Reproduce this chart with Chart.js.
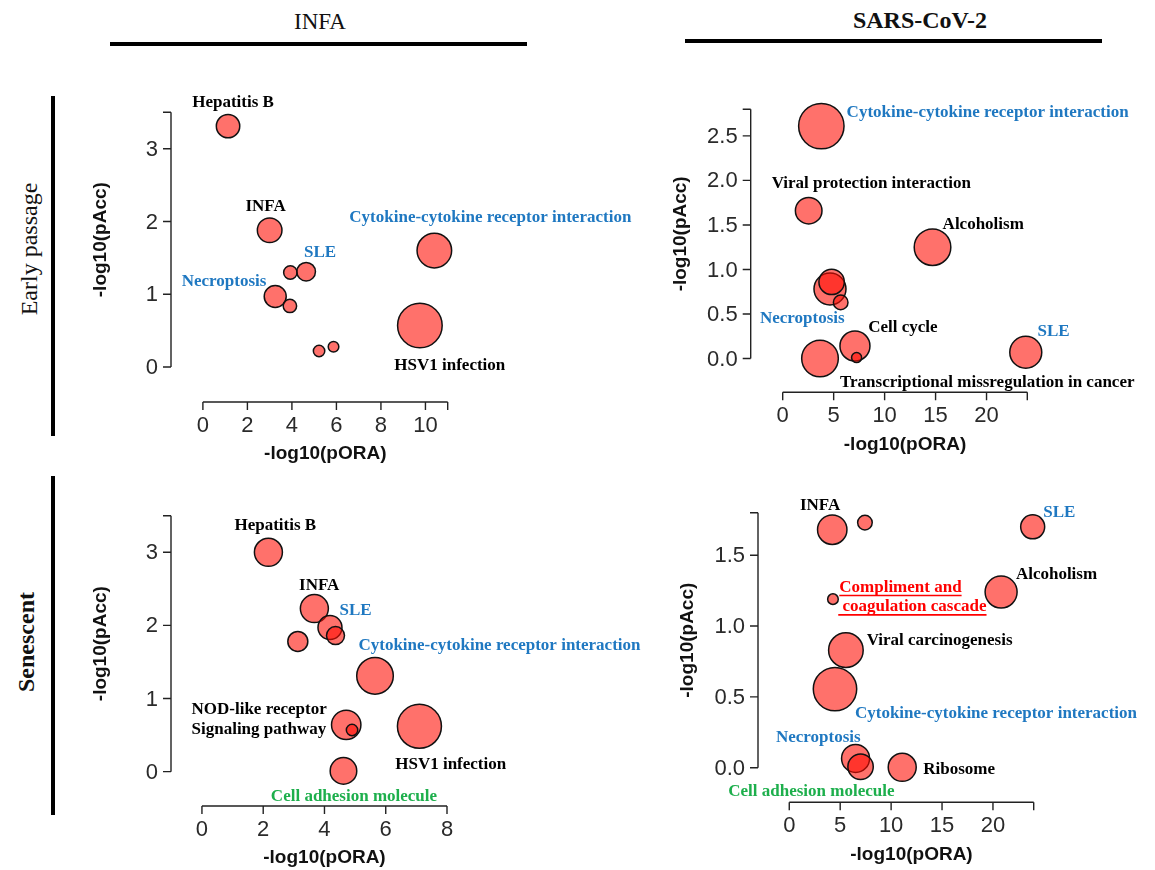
<!DOCTYPE html>
<html>
<head>
<meta charset="utf-8">
<script src="https://cdn.jsdelivr.net/npm/chart.js@4.4.1/dist/chart.umd.min.js"></script>
<style>
    html, body { margin: 0; padding: 0; background: #fff; }
    body { width: 1155px; height: 870px; position: relative; overflow: hidden; }
    canvas { position: absolute; }
    .head { position: absolute; font-family: 'Liberation Serif', 'Times New Roman', serif; color: #111;
            white-space: nowrap; transform: translate(-50%, -50%); line-height: 1; }
    .bar { position: absolute; background: #000; }
    .side { position: absolute; font-family: 'Liberation Serif', 'Times New Roman', serif; color: #111;
            white-space: nowrap; line-height: 1; transform: translate(-50%, -50%) rotate(-90deg); }
</style>
</head>
<body>
<div class="head" style="left:320px; top:21px; font-size:23px;">INFA</div>
<div class="head" style="left:920px; top:20px; font-size:24px; font-weight:bold;">SARS-CoV-2</div>
<div class="bar" style="left:110px; top:42px; width:417px; height:4px;"></div>
<div class="bar" style="left:685px; top:39px; width:417px; height:4px;"></div>
<div class="bar" style="left:51px; top:96px; width:3.5px; height:340px;"></div>
<div class="bar" style="left:51px; top:476px; width:3.5px; height:339px;"></div>
<div class="side" style="left:29px; top:249px; font-size:24px;">Early passage</div>
<div class="side" style="left:26px; top:642px; font-size:24px; font-weight:bold;">Senescent</div>

<canvas id="infa-early" width="590" height="390" style="left:60px; top:85px;"></canvas>
<canvas id="sars-early" width="505" height="385" style="left:650px; top:85px;"></canvas>
<canvas id="infa-sen" width="590" height="385" style="left:60px; top:485px;"></canvas>
<canvas id="sars-sen" width="505" height="390" style="left:650px; top:480px;"></canvas>

<script>
// INFA, early passage
var infaEarlyX = [1.13, 3.0, 3.93, 4.64, 3.25, 3.91, 5.22, 5.87, 10.4, 9.75];
var infaEarlyY = [3.31, 1.88, 1.30, 1.31, 0.97, 0.84, 0.22, 0.28, 1.60, 0.57];
var infaEarlyR = [11.7, 12.3, 6.7, 9.3, 11, 6.7, 5.7, 5.3, 17.3, 22.3];

// SARS-CoV-2, early passage
var sarsEarlyX = [3.79, 2.55, 14.7, 4.64, 4.8, 5.69, 3.66, 7.09, 7.25, 23.85];
var sarsEarlyY = [2.61, 1.66, 1.25, 0.78, 0.86, 0.63, 0.0, 0.14, 0.01, 0.07];
var sarsEarlyR = [22.7, 13.3, 18.3, 16, 12.7, 7.3, 18.3, 15, 5, 16];

// INFA, senescent
var infaSenX = [2.17, 3.67, 4.18, 4.36, 3.13, 5.65, 4.71, 4.9, 7.10, 4.62];
var infaSenY = [3.0, 2.23, 1.97, 1.86, 1.78, 1.31, 0.64, 0.57, 0.62, 0.01];
var infaSenR = [14, 14, 12, 9, 10, 18.3, 14.7, 5.7, 22, 13.3];

// SARS-CoV-2, senescent
var sarsSenX = [4.22, 7.43, 23.9, 20.8, 4.29, 5.56, 4.49, 6.51, 7.0, 11.09];
var sarsSenY = [1.68, 1.73, 1.70, 1.24, 1.19, 0.83, 0.555, 0.066, 0.007, 0.003];
var sarsSenR = [14.7, 7.3, 12, 16, 5.3, 17.3, 21.7, 14, 12.7, 14];

// tick labels
var infaEarlyXTicks = [0, 2, 4, 6, 8, 10];
var infaEarlyYTicks = [0, 1, 2, 3];
var sarsEarlyXTicks = [0, 5, 10, 15, 20];
var sarsEarlyYTicks = [0, 0.5, 1.0, 1.5, 2.0, 2.5];
var infaSenXTicks = [0, 2, 4, 6, 8];
var infaSenYTicks = [0, 1, 2, 3];
var sarsSenXTicks = [0, 5, 10, 15, 20];
var sarsSenYTicks = [0, 0.5, 1.0, 1.5];

var BLUE = '#1f78c1';
var GREEN = '#1daf4c';
var RED = '#ff0000';
var BLACK = '#000000';

// pathway names, placed in data space
var infaEarlyLabels = [
    {text: 'Hepatitis B', x: -0.48, y: 3.64, color: BLACK},
    {text: 'INFA', x: 1.91, y: 2.20, color: BLACK},
    {text: 'SLE', x: 4.54, y: 1.57, color: BLUE},
    {text: 'Necroptosis', x: -0.95, y: 1.17, color: BLUE},
    {text: 'Cytokine-cytokine receptor interaction', x: 6.58, y: 2.06, color: BLUE},
    {text: 'HSV1 infection', x: 8.60, y: 0.02, color: BLACK}
];
var sarsEarlyLabels = [
    {text: 'Cytokine-cytokine receptor interaction', x: 6.27, y: 2.76, color: BLUE},
    {text: 'Viral protection interaction', x: -1.08, y: 1.96, color: BLACK},
    {text: 'Alcoholism', x: 15.69, y: 1.50, color: BLACK},
    {text: 'Necroptosis', x: -2.23, y: 0.45, color: BLUE},
    {text: 'Cell cycle', x: 8.39, y: 0.35, color: BLACK},
    {text: 'SLE', x: 25.0, y: 0.30, color: BLUE},
    {text: 'Transcriptional missregulation in cancer', x: 5.62, y: -0.27, color: BLACK}
];
var infaSenLabels = [
    {text: 'Hepatitis B', x: 1.06, y: 3.37, color: BLACK},
    {text: 'INFA', x: 3.17, y: 2.55, color: BLACK},
    {text: 'SLE', x: 4.49, y: 2.20, color: BLUE},
    {text: 'Cytokine-cytokine receptor interaction', x: 5.11, y: 1.73, color: BLUE},
    {text: 'NOD-like receptor', x: -0.34, y: 0.85, color: BLACK},
    {text: 'Signaling pathway', x: -0.34, y: 0.58, color: BLACK},
    {text: 'HSV1 infection', x: 6.31, y: 0.10, color: BLACK},
    {text: 'Cell adhesion molecule', x: 2.25, y: -0.34, color: GREEN}
];
var sarsSenLabels = [
    {text: 'INFA', x: 1.05, y: 1.85, color: BLACK},
    {text: 'SLE', x: 24.93, y: 1.80, color: BLUE},
    {text: 'Alcoholism', x: 22.25, y: 1.364, color: BLACK},
    {text: 'Compliment and', x: 4.91, y: 1.272, color: RED, underline: true},
    {text: ' coagulation cascade', x: 4.81, y: 1.135, color: RED, underline: true},
    {text: 'Viral carcinogenesis', x: 7.6, y: 0.896, color: BLACK},
    {text: 'Cytokine-cytokine receptor interaction', x: 6.45, y: 0.384, color: BLUE},
    {text: 'Necroptosis', x: -1.31, y: 0.214, color: BLUE},
    {text: 'Ribosome', x: 13.15, y: -0.011, color: BLACK},
    {text: 'Cell adhesion molecule', x: -5.99, y: -0.169, color: GREEN}
];

// R-style detached axes drawn from the chart's own scales
var rAxesPlugin = {
    id: 'rAxes',
    beforeDatasetsDraw: function (chart, args, opts) {
        var ctx = chart.ctx;
        var xs = chart.scales.x;
        var ys = chart.scales.y;
        var area = chart.chartArea;

        var yA = ys.getPixelForValue(0);
        var yB = ys.getPixelForValue(opts.yEnd);
        var xA = xs.getPixelForValue(0);
        var xB = xs.getPixelForValue(opts.xEnd);

        ctx.save();
        ctx.strokeStyle = '#222';
        ctx.lineWidth = 1.4;
        ctx.beginPath();
        ctx.moveTo(area.left, yA);
        ctx.lineTo(area.left, yB);
        opts.yTicks.concat([opts.yEnd]).forEach(function (v) {
            var p = ys.getPixelForValue(v);
            ctx.moveTo(area.left - 8, p);
            ctx.lineTo(area.left, p);
        });
        ctx.moveTo(xA, area.bottom);
        ctx.lineTo(xB, area.bottom);
        opts.xTicks.concat([opts.xEnd]).forEach(function (v) {
            var p = xs.getPixelForValue(v);
            ctx.moveTo(p, area.bottom);
            ctx.lineTo(p, area.bottom + 8);
        });
        ctx.stroke();

        ctx.fillStyle = '#2a2a2a';
        ctx.font = '22px "Liberation Sans", Arial, sans-serif';
        ctx.textAlign = 'right';
        ctx.textBaseline = 'middle';
        opts.yTicks.forEach(function (v) {
            ctx.fillText(v.toFixed(opts.yDigits), area.left - 13, ys.getPixelForValue(v) + 1);
        });
        ctx.textAlign = 'center';
        opts.xTicks.forEach(function (v) {
            ctx.fillText(String(v), xs.getPixelForValue(v), area.bottom + 24);
        });

        ctx.fillStyle = '#111';
        ctx.font = 'bold 19px "Liberation Sans", Arial, sans-serif';
        ctx.fillText('-log10(pORA)', (xA + xB) / 2, area.bottom + 52);
        ctx.translate(area.left - 70, (yA + yB) / 2);
        ctx.rotate(-Math.PI / 2);
        ctx.fillText('-log10(pAcc)', 0, 0);
        ctx.restore();
    }
};

var pathLabelPlugin = {
    id: 'pathLabels',
    afterDatasetsDraw: function (chart, args, opts) {
        var ctx = chart.ctx;
        ctx.save();
        ctx.font = 'bold 17px "Liberation Serif", "Times New Roman", serif';
        ctx.textAlign = 'left';
        ctx.textBaseline = 'middle';
        opts.items.forEach(function (item) {
            var px = chart.scales.x.getPixelForValue(item.x);
            var py = chart.scales.y.getPixelForValue(item.y);
            ctx.fillStyle = item.color;
            ctx.fillText(item.text, px, py);
            if (item.underline) {
                var w = ctx.measureText(item.text).width;
                ctx.strokeStyle = item.color;
                ctx.lineWidth = 1.6;
                ctx.beginPath();
                ctx.moveTo(px, py + 8);
                ctx.lineTo(px + w, py + 8);
                ctx.stroke();
            }
        });
        ctx.restore();
    }
};

function makePanel(id, box, area, xs, ys, rs, xRange, yRange, xTicks, yTicks, yDigits, labels) {
    var points = xs.map(function (x, i) {
        return {x: x, y: ys[i], r: rs[i]};
    });

    return new Chart(document.getElementById(id), {
        type: 'bubble',
        data: {
            datasets: [{
                data: points,
                backgroundColor: 'rgba(255, 10, 0, 0.58)',
                borderColor: '#111',
                borderWidth: 1.5,
                clip: false
            }]
        },
        options: {
            responsive: false,
            animation: false,
            events: [],
            layout: {
                padding: {
                    left: area.left - box.left,
                    top: area.top - box.top,
                    right: box.left + box.width - area.right,
                    bottom: box.top + box.height - area.bottom
                }
            },
            scales: {
                x: {type: 'linear', min: xRange[0], max: xRange[1], display: false},
                y: {type: 'linear', min: yRange[0], max: yRange[1], display: false}
            },
            plugins: {
                legend: {display: false},
                tooltip: {enabled: false},
                rAxes: {xTicks: xTicks, yTicks: yTicks, xEnd: xRange[1], yEnd: yRange[1], yDigits: yDigits},
                pathLabels: {items: labels}
            }
        },
        plugins: [rAxesPlugin, pathLabelPlugin]
    });
}

makePanel('infa-early',
    {left: 60, top: 85, width: 590, height: 390},
    {left: 171, top: 112.3, right: 447.7, bottom: 402},
    infaEarlyX, infaEarlyY, infaEarlyR, [-1.433, 11], [-0.48, 3.5],
    infaEarlyXTicks, infaEarlyYTicks, 0, infaEarlyLabels);

makePanel('sars-early',
    {left: 650, top: 85, width: 505, height: 385},
    {left: 750.7, top: 102.7, right: 1027.3, bottom: 392.3},
    sarsEarlyX, sarsEarlyY, sarsEarlyR, [-3.14, 24], [-0.38, 2.8],
    sarsEarlyXTicks, sarsEarlyYTicks, 1, sarsEarlyLabels);

makePanel('infa-sen',
    {left: 60, top: 485, width: 590, height: 385},
    {left: 171, top: 515.7, right: 447, bottom: 806},
    infaSenX, infaSenY, infaSenR, [-1.01, 8], [-0.47, 3.5],
    infaSenXTicks, infaSenYTicks, 0, infaSenLabels);

makePanel('sars-sen',
    {left: 650, top: 480, width: 505, height: 390},
    {left: 758, top: 512.7, right: 1033.7, bottom: 802.3},
    sarsSenX, sarsSenY, sarsSenR, [-3.07, 24], [-0.244, 1.8],
    sarsSenXTicks, sarsSenYTicks, 1, sarsSenLabels);
</script>
</body>
</html>
